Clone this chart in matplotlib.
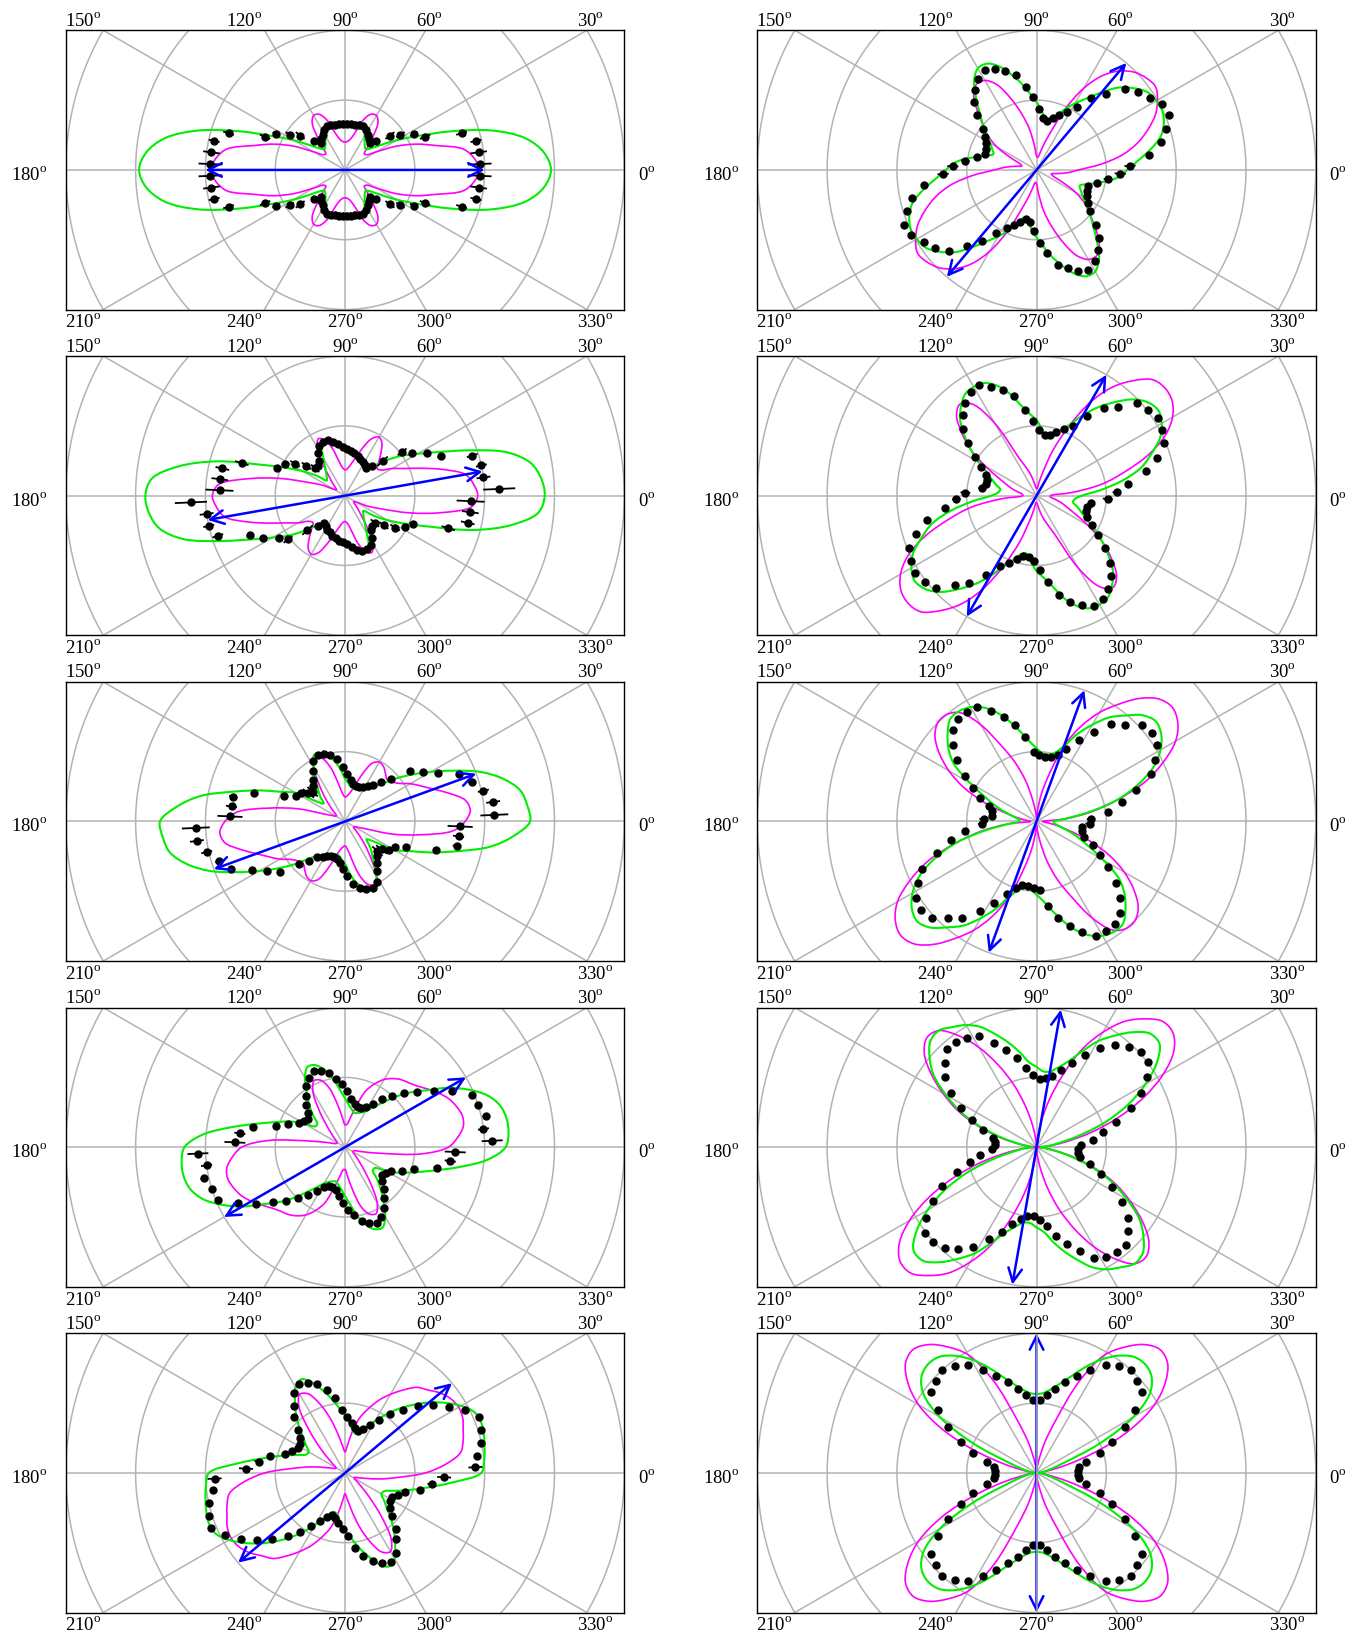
import numpy as np
import matplotlib.pyplot as plt
from matplotlib.collections import LineCollection
from matplotlib.path import Path
from matplotlib.patches import PathPatch

plt.rcParams['font.family'] = 'Liberation Serif'
plt.rcParams['mathtext.fontset'] = 'custom'
plt.rcParams['mathtext.rm'] = 'Liberation Serif'

# sample angles (deg); curves/points repeat after 180 deg (inversion symmetry)
ang_curve = np.arange(0, 180, 5)
ang_dots = np.arange(2.5, 180, 5)

# ---- left column ----
green_L1 = [2.95, 2.86, 2.62, 2.18, 1.62, 1.15, 0.85, 0.62, 0.48, 0.42, 0.44, 0.49, 0.56, 0.65, 0.68, 0.66, 0.645, 0.64,
            0.635, 0.64, 0.645, 0.66, 0.68, 0.65, 0.56, 0.49, 0.44, 0.42, 0.48, 0.62, 0.85, 1.15, 1.62, 2.18, 2.62, 2.86]
magenta_L1 = [1.92, 1.86, 1.72, 1.35, 1.08, 0.8, 0.52, 0.38, 0.36, 0.45, 0.62, 0.82, 0.9, 0.88, 0.76, 0.55, 0.45, 0.41,
              0.40, 0.41, 0.45, 0.55, 0.76, 0.88, 0.9, 0.82, 0.62, 0.45, 0.36, 0.38, 0.52, 0.8, 1.08, 1.35, 1.72, 1.86]
dots_L1 = [1.93, 1.93, 1.92, 1.75, 1.24, 1.11, 0.94, 0.81, 0.61, 0.52, 0.56, 0.6, 0.65, 0.68, 0.68, 0.66, 0.66, 0.66,
           0.66, 0.66, 0.66, 0.68, 0.68, 0.65, 0.6, 0.56, 0.52, 0.61, 0.81, 0.94, 1.11, 1.24, 1.75, 1.92, 1.93, 1.93]
err_L1 = [0.17, 0.12, 0.08, 0.08, 0.08, 0.06, 0.07, 0.08, 0.03, 0.05, 0.05, 0.05, 0.05, 0.05, 0.05, 0.05, 0.05, 0.05,
          0.05, 0.05, 0.05, 0.05, 0.05, 0.05, 0.05, 0.05, 0.05, 0.03, 0.08, 0.07, 0.06, 0.08, 0.08, 0.08, 0.12, 0.17]

green_L2 = [2.86, 2.82, 2.7, 2.4, 1.9, 1.48, 1.2, 1.0, 0.8, 0.62, 0.51, 0.52, 0.54, 0.56, 0.57, 0.6, 0.62, 0.65,
            0.67, 0.71, 0.76, 0.81, 0.85, 0.80, 0.62, 0.5, 0.42, 0.37, 0.34, 0.5, 0.7, 0.95, 1.3, 1.9, 2.42, 2.78]
magenta_L2 = [1.9, 1.85, 1.75, 1.45, 1.15, 0.92, 0.78, 0.64, 0.6, 0.68, 0.8, 0.92, 0.97, 0.9, 0.72, 0.55, 0.45, 0.39,
              0.37, 0.4, 0.5, 0.7, 0.85, 0.9, 0.8, 0.55, 0.35, 0.25, 0.18, 0.15, 0.18, 0.35, 0.55, 0.95, 1.4, 1.82]
dots_L2 = [2.21, 2.0, 2.0, 1.91, 1.48, 1.32, 1.13, 1.03, 0.73, 0.58, 0.5, 0.52, 0.55, 0.57, 0.6, 0.62, 0.65, 0.67,
           0.7, 0.74, 0.79, 0.83, 0.83, 0.8, 0.72, 0.62, 0.58, 0.58, 0.7, 0.85, 0.97, 1.05, 1.55, 1.8, 1.81, 1.8]
err_L2 = [0.23, 0.1, 0.08, 0.08, 0.05, 0.05, 0.05, 0.08, 0.1, 0.05, 0.04, 0.04, 0.04, 0.04, 0.04, 0.04, 0.04, 0.04,
          0.04, 0.04, 0.04, 0.04, 0.04, 0.04, 0.04, 0.04, 0.04, 0.08, 0.08, 0.08, 0.05, 0.05, 0.1, 0.1, 0.12, 0.2]

green_L3 = [2.65, 2.62, 2.55, 2.35, 2.07, 1.72, 1.42, 1.17, 0.96, 0.77, 0.65, 0.58, 0.55, 0.52, 0.5, 0.49, 0.5, 0.55,
            0.61, 0.75, 0.88, 0.98, 1.04, 1.05, 0.9, 0.72, 0.6, 0.5, 0.4, 0.5, 0.82, 1.0, 1.3, 1.65, 2.1, 2.42]
magenta_L3 = [1.72, 1.8, 1.75, 1.55, 1.35, 1.2, 1.08, 0.95, 0.88, 0.85, 0.9, 0.96, 0.98, 0.92, 0.72, 0.52, 0.42, 0.37,
              0.35, 0.4, 0.55, 0.8, 0.96, 1.0, 0.9, 0.65, 0.45, 0.3, 0.2, 0.15, 0.15, 0.2, 0.3, 0.7, 1.1, 1.55]
dots_L3 = [2.14, 2.14, 2.03, 1.9, 1.77, 1.5, 1.33, 1.18, 0.9, 0.77, 0.65, 0.6, 0.56, 0.53, 0.53, 0.55, 0.6, 0.68,
           0.78, 0.9, 0.97, 1.02, 1.03, 0.98, 0.85, 0.75, 0.68, 0.63, 0.66, 0.75, 0.8, 0.95, 1.36, 1.64, 1.64, 1.65]
err_L3 = [0.2, 0.1, 0.08, 0.05, 0.04, 0.04, 0.04, 0.04, 0.04, 0.04, 0.04, 0.04, 0.04, 0.04, 0.04, 0.04, 0.04, 0.04,
          0.04, 0.04, 0.04, 0.04, 0.04, 0.04, 0.04, 0.04, 0.04, 0.1, 0.1, 0.04, 0.04, 0.04, 0.04, 0.06, 0.08, 0.18]

green_L4 = [2.3, 2.35, 2.35, 2.3, 2.17, 1.95, 1.7, 1.42, 1.22, 1.02, 0.83, 0.7, 0.6, 0.55, 0.52, 0.51, 0.55, 0.61,
            0.7, 0.82, 1.0, 1.15, 1.25, 1.27, 1.15, 0.96, 0.8, 0.65, 0.52, 0.52, 0.68, 0.87, 1.05, 1.3, 1.65, 2.05]
magenta_L4 = [1.48, 1.62, 1.72, 1.74, 1.7, 1.64, 1.55, 1.45, 1.36, 1.3, 1.26, 1.2, 1.12, 1.0, 0.85, 0.6, 0.42, 0.33,
              0.32, 0.42, 0.62, 0.88, 1.02, 1.05, 0.92, 0.65, 0.42, 0.28, 0.2, 0.15, 0.13, 0.13, 0.15, 0.25, 0.5, 1.1]
dots_L4 = [2.11, 2.0, 2.07, 2.0, 1.97, 1.73, 1.51, 1.3, 1.14, 0.99, 0.87, 0.74, 0.65, 0.6, 0.6, 0.63, 0.7, 0.8,
           0.9, 0.98, 1.09, 1.14, 1.18, 1.12, 1.04, 0.92, 0.82, 0.72, 0.66, 0.7, 0.75, 0.88, 1.03, 1.35, 1.52, 1.58]
err_L4 = [0.15, 0.08, 0.05, 0.04, 0.04, 0.04, 0.04, 0.04, 0.04, 0.04, 0.04, 0.04, 0.04, 0.04, 0.04, 0.04, 0.04, 0.04,
          0.04, 0.04, 0.04, 0.04, 0.04, 0.04, 0.04, 0.04, 0.04, 0.04, 0.04, 0.04, 0.04, 0.04, 0.04, 0.05, 0.08, 0.15]

green_L5 = [1.95, 2.0, 2.03, 2.06, 2.08, 2.05, 1.92, 1.75, 1.57, 1.38, 1.2, 1.02, 0.86, 0.72, 0.63, 0.58, 0.62, 0.72,
            0.82, 0.93, 1.07, 1.22, 1.38, 1.48, 1.42, 1.25, 1.09, 0.93, 0.78, 0.68, 0.6, 0.62, 0.75, 0.95, 1.2, 1.55]
magenta_L5 = [1.15, 1.45, 1.68, 1.75, 1.8, 1.86, 1.88, 1.85, 1.78, 1.68, 1.6, 1.45, 1.3, 1.15, 0.98, 0.82, 0.6, 0.4,
              0.3, 0.38, 0.55, 0.8, 1.05, 1.25, 1.3, 1.15, 0.8, 0.5, 0.3, 0.2, 0.15, 0.15, 0.2, 0.3, 0.5, 0.75]
dots_L5 = [1.87, 1.91, 1.99, 2.04, 2.08, 1.94, 1.76, 1.59, 1.41, 1.22, 1.06, 0.9, 0.77, 0.68, 0.63, 0.66, 0.72, 0.8,
           0.9, 1.08, 1.22, 1.33, 1.4, 1.44, 1.36, 1.2, 1.08, 0.92, 0.82, 0.76, 0.76, 0.82, 0.9, 1.1, 1.25, 1.42]
err_L5 = [0.1, 0.04, 0.04, 0.04, 0.04, 0.04, 0.04, 0.04, 0.04, 0.04, 0.04, 0.04, 0.04, 0.04, 0.04, 0.04, 0.04, 0.04,
          0.04, 0.04, 0.04, 0.04, 0.04, 0.04, 0.04, 0.04, 0.04, 0.04, 0.04, 0.04, 0.04, 0.04, 0.04, 0.04, 0.06, 0.1]

# ---- right column ----
green_R1 = [1.3, 1.45, 1.65, 1.84, 1.94, 1.99, 1.98, 1.94, 1.82, 1.67, 1.45, 1.25, 1.1, 0.96, 0.82, 0.71, 0.72, 0.85,
            0.97, 1.1, 1.26, 1.42, 1.58, 1.68, 1.68, 1.56, 1.35, 1.15, 1.0, 0.86, 0.77, 0.7, 0.66, 0.78, 0.98, 1.18]
magenta_R1 = [0.6, 0.92, 1.25, 1.5, 1.7, 1.88, 2.0, 2.08, 2.05, 1.98, 1.85, 1.65, 1.35, 0.95, 0.55, 0.35, 0.22, 0.18,
              0.2, 0.35, 0.6, 0.84, 1.1, 1.35, 1.48, 1.5, 1.4, 1.2, 1.0, 0.85, 0.65, 0.4, 0.25, 0.22, 0.3, 0.45]
dots_R1 = [1.34, 1.63, 1.83, 1.95, 2.06, 2.03, 1.92, 1.84, 1.71, 1.48, 1.29, 1.07, 0.93, 0.85, 0.78, 0.72, 0.75, 0.88,
           1.05, 1.2, 1.39, 1.48, 1.57, 1.61, 1.55, 1.45, 1.32, 1.16, 0.97, 0.88, 0.82, 0.78, 0.78, 0.88, 1.03, 1.2]
err_R1 = [0.08, 0.03, 0.03, 0.03, 0.03, 0.03, 0.03, 0.03, 0.03, 0.03, 0.03, 0.03, 0.03, 0.03, 0.03, 0.03, 0.03, 0.03,
          0.03, 0.03, 0.03, 0.03, 0.03, 0.03, 0.03, 0.03, 0.03, 0.03, 0.03, 0.03, 0.03, 0.03, 0.03, 0.03, 0.06, 0.08]

green_R2 = [0.65, 0.92, 1.25, 1.55, 1.75, 1.95, 2.07, 2.13, 2.08, 1.95, 1.75, 1.55, 1.33, 1.12, 0.98, 0.87, 0.84, 0.95,
            1.08, 1.18, 1.32, 1.52, 1.68, 1.78, 1.8, 1.78, 1.68, 1.55, 1.35, 1.15, 0.95, 0.78, 0.68, 0.6, 0.53, 0.55]
magenta_R2 = [0.2, 0.5, 0.95, 1.3, 1.7, 2.03, 2.25, 2.37, 2.4, 2.35, 2.15, 1.9, 1.55, 1.1, 0.7, 0.35, 0.18, 0.1,
              0.1, 0.12, 0.18, 0.3, 0.42, 0.6, 1.2, 1.6, 1.71, 1.62, 1.4, 1.15, 0.85, 0.6, 0.45, 0.35, 0.25, 0.2]
dots_R2 = [1.15, 1.32, 1.6, 1.81, 1.97, 2.03, 2.07, 2.02, 1.96, 1.73, 1.58, 1.35, 1.13, 1.04, 0.95, 0.89, 0.88, 0.94,
           1.07, 1.24, 1.46, 1.59, 1.69, 1.78, 1.76, 1.68, 1.57, 1.42, 1.23, 1.04, 0.9, 0.78, 0.74, 0.74, 0.79, 1.02]
err_R2 = [0.06, 0.03, 0.03, 0.03, 0.03, 0.03, 0.03, 0.03, 0.03, 0.03, 0.03, 0.03, 0.03, 0.03, 0.03, 0.03, 0.03, 0.03,
          0.03, 0.03, 0.03, 0.03, 0.03, 0.03, 0.03, 0.03, 0.03, 0.03, 0.03, 0.03, 0.03, 0.03, 0.03, 0.03, 0.05, 0.07]

green_R3 = [0.25, 0.4, 0.75, 1.2, 1.55, 1.85, 2.05, 2.18, 2.23, 2.15, 1.98, 1.82, 1.6, 1.38, 1.15, 1.02, 0.97, 0.98,
            1.05, 1.15, 1.3, 1.48, 1.66, 1.8, 1.89, 1.93, 1.92, 1.8, 1.65, 1.45, 1.1, 0.8, 0.6, 0.42, 0.3, 0.25]
magenta_R3 = [0.08, 0.4, 0.8, 1.2, 1.65, 2.0, 2.3, 2.47, 2.54, 2.48, 2.3, 2.05, 1.8, 1.5, 1.15, 0.7, 0.4, 0.15,
              0.05, 0.12, 0.3, 0.6, 0.9, 1.2, 1.6, 1.9, 2.0, 2.0, 1.9, 1.7, 1.45, 1.15, 0.8, 0.45, 0.25, 0.12]
dots_R3 = [0.78, 1.03, 1.26, 1.5, 1.77, 1.91, 2.04, 2.09, 2.04, 1.88, 1.75, 1.52, 1.32, 1.12, 1.0, 0.94, 0.93, 0.95,
           0.99, 1.22, 1.42, 1.57, 1.71, 1.85, 1.86, 1.85, 1.77, 1.62, 1.44, 1.21, 1.03, 0.88, 0.72, 0.66, 0.65, 0.76]
err_R3 = [0.06, 0.03, 0.03, 0.03, 0.03, 0.03, 0.03, 0.03, 0.03, 0.03, 0.03, 0.03, 0.03, 0.03, 0.03, 0.03, 0.03, 0.03,
          0.03, 0.03, 0.03, 0.03, 0.03, 0.03, 0.03, 0.03, 0.03, 0.03, 0.03, 0.03, 0.03, 0.03, 0.03, 0.03, 0.03, 0.06]

green_R4 = [0.05, 0.15, 0.3, 0.62, 1.05, 1.45, 1.8, 2.1, 2.3, 2.3, 2.15, 1.95, 1.75, 1.5, 1.3, 1.18, 1.1, 1.09,
            1.15, 1.22, 1.38, 1.55, 1.72, 1.9, 2.02, 2.1, 2.18, 2.15, 2.0, 1.8, 1.5, 1.2, 0.85, 0.5, 0.22, 0.08]
magenta_R4 = [0.02, 0.15, 0.4, 0.8, 1.25, 1.7, 2.1, 2.4, 2.55, 2.55, 2.4, 2.2, 1.9, 1.55, 1.1, 0.7, 0.35, 0.1,
              0.02, 0.1, 0.3, 0.6, 0.95, 1.3, 1.65, 1.95, 2.18, 2.22, 2.1, 1.85, 1.55, 1.25, 0.9, 0.55, 0.25, 0.08]
dots_R4 = [0.64, 0.81, 0.98, 1.19, 1.46, 1.68, 1.88, 2.01, 2.02, 1.95, 1.84, 1.69, 1.49, 1.31, 1.16, 1.05, 1.0, 0.98,
           1.04, 1.14, 1.31, 1.46, 1.61, 1.79, 1.86, 1.9, 1.9, 1.78, 1.66, 1.45, 1.22, 1.0, 0.81, 0.64, 0.6, 0.6]
err_R4 = [0.04, 0.03, 0.03, 0.03, 0.03, 0.03, 0.03, 0.03, 0.03, 0.03, 0.03, 0.03, 0.03, 0.03, 0.03, 0.03, 0.03, 0.03,
          0.03, 0.03, 0.03, 0.03, 0.03, 0.03, 0.03, 0.03, 0.03, 0.03, 0.03, 0.03, 0.03, 0.03, 0.03, 0.03, 0.03, 0.04]

green_R5 = [0.02, 0.05, 0.1, 0.2, 0.4, 1.0, 1.6, 1.98, 2.15, 2.2, 2.17, 2.05, 1.88, 1.68, 1.48, 1.33, 1.22, 1.15,
            1.13, 1.15, 1.22, 1.33, 1.48, 1.68, 1.88, 2.05, 2.17, 2.2, 2.15, 1.98, 1.6, 1.0, 0.4, 0.2, 0.1, 0.05]
magenta_R5 = [0.01, 0.05, 0.15, 0.45, 0.95, 1.5, 1.95, 2.25, 2.45, 2.5, 2.4, 2.2, 1.95, 1.45, 0.8, 0.45, 0.18, 0.05,
              0.01, 0.05, 0.18, 0.45, 0.8, 1.45, 1.95, 2.2, 2.4, 2.5, 2.45, 2.25, 1.95, 1.5, 0.95, 0.45, 0.15, 0.05]
dots_R5 = [0.6, 0.61, 0.72, 0.95, 1.17, 1.43, 1.68, 1.9, 1.95, 2.0, 1.93, 1.84, 1.67, 1.5, 1.36, 1.23, 1.12, 1.04,
           1.04, 1.12, 1.23, 1.36, 1.5, 1.67, 1.84, 1.93, 2.0, 1.95, 1.9, 1.68, 1.43, 1.17, 0.95, 0.72, 0.61, 0.6]
err_R5 = [0.03] * 36

# blue double arrows: direction (deg), half length
arrow_deg_left = [0, 10, 20, 30, 40]
arrow_deg_right = [50, 60, 70, 80, 90]
arrow_len = 2.0

left_panels = [(green_L1, magenta_L1, dots_L1, err_L1), (green_L2, magenta_L2, dots_L2, err_L2),
               (green_L3, magenta_L3, dots_L3, err_L3), (green_L4, magenta_L4, dots_L4, err_L4),
               (green_L5, magenta_L5, dots_L5, err_L5)]
right_panels = [(green_R1, magenta_R1, dots_R1, err_R1), (green_R2, magenta_R2, dots_R2, err_R2),
                (green_R3, magenta_R3, dots_R3, err_R3), (green_R4, magenta_R4, dots_R4, err_R4),
                (green_R5, magenta_R5, dots_R5, err_R5)]

GRID = '#b3b3b3'
W, H = 1349, 1637
fig = plt.figure(figsize=(W / 100, H / 100), dpi=100)


def smooth_closed_path(ang, r):
    # closed polar curve drawn as centripetal Catmull-Rom (Bezier) through the read points
    a = np.radians(np.concatenate([ang, np.asarray(ang) + 180]))
    rr = np.concatenate([r, r])
    P = np.column_stack([rr * np.cos(a), rr * np.sin(a)])
    n = len(P)
    verts = [P[0]]
    codes = [Path.MOVETO]
    for i in range(n):
        p0, p1, p2, p3 = P[i - 1], P[i], P[(i + 1) % n], P[(i + 2) % n]
        d1 = max(np.linalg.norm(p1 - p0), 1e-6) ** 0.5
        d2 = max(np.linalg.norm(p2 - p1), 1e-6) ** 0.5
        d3 = max(np.linalg.norm(p3 - p2), 1e-6) ** 0.5
        b1 = (d1 ** 2 * p2 - d2 ** 2 * p0 + (2 * d1 ** 2 + 3 * d1 * d2 + d2 ** 2) * p1) / (3 * d1 * (d1 + d2))
        b2 = (d3 ** 2 * p1 - d2 ** 2 * p3 + (2 * d3 ** 2 + 3 * d3 * d2 + d2 ** 2) * p2) / (3 * d3 * (d3 + d2))
        verts += [b1, b2, p2]
        codes += [Path.CURVE4] * 3
    return Path(verts, codes)


def deg_label(a):
    return f'{a}' + r'$^{\mathrm{o}}$'


def draw_panel(ax, green, magenta, dots, err, arrow_deg):
    ax.set_xlim(-4, 4)
    ax.set_ylim(-2, 2)
    ax.set_xticks([])
    ax.set_yticks([])
    for s in ax.spines.values():
        s.set_linewidth(1.0)
        s.set_zorder(10)

    t = np.linspace(0, 2 * np.pi, 400)
    for r in range(1, 6):
        ax.plot(r * np.cos(t), r * np.sin(t), color=GRID, lw=1.1, zorder=1)
    for a in range(0, 360, 30):
        ra = np.radians(a)
        # spoke under the arrow lies on top of it (as in the vertical arrow panel)
        z = 7.5 if (a % 180 == 90 and arrow_deg % 180 == 90) else 1
        ax.plot([0, 6 * np.cos(ra)], [0, 6 * np.sin(ra)], color=GRID, lw=1.1, zorder=z)

    ax.add_patch(PathPatch(smooth_closed_path(ang_curve, magenta), fill=False,
                           edgecolor='#ff00ff', lw=1.2, zorder=3))
    ax.add_patch(PathPatch(smooth_closed_path(ang_curve, green), fill=False,
                           edgecolor='#00ee00', lw=1.5, zorder=4))

    a = np.radians(np.concatenate([ang_dots, ang_dots + 180]))
    rd = np.concatenate([dots, dots])
    ed = np.concatenate([err, err])
    segs = [[((r - e) * np.cos(q), (r - e) * np.sin(q)), ((r + e) * np.cos(q), (r + e) * np.sin(q))]
            for q, r, e in zip(a, rd, ed)]
    ax.add_collection(LineCollection(segs, colors='k', linewidths=1.3, zorder=5))
    ax.plot(rd * np.cos(a), rd * np.sin(a), 'o', color='k', ms=5, zorder=6)

    ra = np.radians(arrow_deg)
    ax.annotate('', xy=(arrow_len * np.cos(ra), arrow_len * np.sin(ra)),
                xytext=(-arrow_len * np.cos(ra), -arrow_len * np.sin(ra)),
                arrowprops=dict(arrowstyle='<->,head_length=0.7,head_width=0.35', color='#0000ff',
                                lw=1.8, shrinkA=0, shrinkB=0, mutation_scale=14), zorder=7)

    fs = 13.5
    for ang in [150, 120, 90, 60, 30]:
        xs = 2 / np.tan(np.radians(ang))
        if ang < 90:
            ax.text(xs - 0.14, 2.062, deg_label(ang), ha='left', va='baseline', fontsize=fs)
        elif ang > 90:
            ax.text(xs - 0.03, 2.062, deg_label(ang), ha='right', va='baseline', fontsize=fs)
        else:
            ax.text(0, 2.062, deg_label(ang), ha='center', va='baseline', fontsize=fs)
    for ang in [210, 240, 270, 300, 330]:
        xs = -2 / np.tan(np.radians(ang))
        if ang > 270:
            ax.text(xs - 0.14, -2.254, deg_label(ang), ha='left', va='baseline', fontsize=fs)
        elif ang < 270:
            ax.text(xs - 0.03, -2.254, deg_label(ang), ha='right', va='baseline', fontsize=fs)
        else:
            ax.text(0, -2.254, deg_label(ang), ha='center', va='baseline', fontsize=fs)
    ax.text(-4.26, -0.143, deg_label(180), ha='right', va='baseline', fontsize=fs)
    ax.text(4.19, -0.143, deg_label(0), ha='left', va='baseline', fontsize=fs)


box_w, box_h = 558.5, 279.25
for col, (x0, panels, arrows) in enumerate([(65.8, left_panels, arrow_deg_left),
                                             (757.3, right_panels, arrow_deg_right)]):
    for row in range(5):
        top = 30.3 + 325.75 * row
        ax = fig.add_axes([x0 / W, 1 - (top + box_h) / H, box_w / W, box_h / H])
        g, m, d, e = panels[row]
        draw_panel(ax, g, m, d, e, arrows[row])

fig.savefig('out.png', dpi=100)
